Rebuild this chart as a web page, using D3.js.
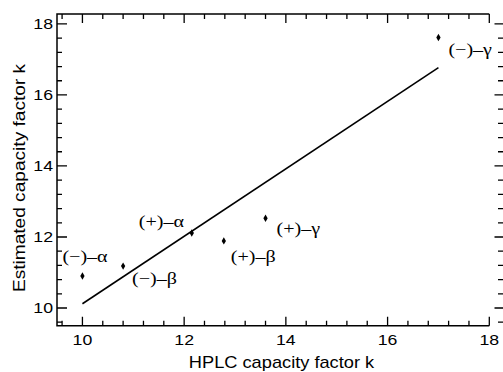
<!DOCTYPE html>
<html>
<head>
<meta charset="utf-8">
<script src="https://cdn.jsdelivr.net/npm/d3@7"></script>
<style>
  html, body { margin: 0; padding: 0; background: #fff; }
  svg { display: block; }
</style>
</head>
<body>
<div id="chart"></div>
<script>
// compounds and their capacity factors
const compounds = ['(\u2212)\u2013\u03b1', '(\u2212)\u2013\u03b2', '(+)\u2013\u03b1', '(+)\u2013\u03b2', '(+)\u2013\u03b3', '(\u2212)\u2013\u03b3'];
const hplcK = [10.0, 10.8, 12.15, 12.78, 13.6, 17.0];
const estimatedK = [10.9, 11.18, 12.11, 11.89, 12.53, 17.62];

// fitted line end points
const fitX = [10.0, 17.0];
const fitY = [10.12, 16.77];

const xMajor = [10, 12, 14, 16, 18];
const yMajor = [10, 12, 14, 16, 18];

// label offset from its point, px
const labelOffsets = [[-20, -14], [9, 18], [-53, -6], [7, 21], [11, 16], [10, 18]];

const plotLeft = 57, plotRight = 489.3, plotTop = 14, plotBottom = 325.75, rightEdge = 503;

const x = d3.scaleLinear().domain([9.5, 18]).range([plotLeft, plotRight]);
const y = d3.scaleLinear().domain([9.5, 18.28]).range([plotBottom, plotTop]);

const svg = d3.select('#chart').append('svg')
  .attr('width', 503).attr('height', 372);

const sans = 'Liberation Sans, Arial, Helvetica, sans-serif';
const serif = 'Liberation Serif, Times New Roman, serif';

function minorTicks(lo, hi) {
  const out = [];
  for (let i = Math.round(lo * 10); i <= Math.round(hi * 10); i += 4) out.push(i / 10);
  return out.filter(v => !xMajor.includes(v));
}
const xMinor = minorTicks(9.6, 18);
const yMinor = minorTicks(9.6, 18);

// frame
svg.append('path')
  .attr('d', `M${plotRight},${plotTop}L${plotLeft},${plotTop}L${plotLeft},${plotBottom}L${plotRight},${plotBottom}`)
  .attr('fill', 'none').attr('stroke', '#000').attr('stroke-width', 1.5);

// inward ticks on all four sides, one path
const tp = d3.path();
const seg = (x1, y1, x2, y2) => { tp.moveTo(x1, y1); tp.lineTo(x2, y2); };
xMajor.forEach(v => { seg(x(v), plotBottom, x(v), plotBottom - 9); seg(x(v), plotTop, x(v), plotTop + 9); });
xMinor.forEach(v => { seg(x(v), plotBottom, x(v), plotBottom - 5); seg(x(v), plotTop, x(v), plotTop + 5); });
yMajor.forEach(v => { seg(plotLeft, y(v), plotLeft + 10, y(v)); seg(rightEdge, y(v), rightEdge - 8.5, y(v)); });
yMinor.forEach(v => { seg(plotLeft, y(v), plotLeft + 5, y(v)); seg(rightEdge, y(v), rightEdge - 5, y(v)); });
svg.append('path')
  .attr('d', tp.toString())
  .attr('fill', 'none').attr('stroke', '#000').attr('stroke-width', 1.3);

// tick labels
svg.append('g').selectAll('text').data(xMajor).join('text')
  .attr('transform', d => `translate(${x(d)},345) scale(1.18,1)`)
  .attr('text-anchor', 'middle')
  .attr('font-family', sans).attr('font-size', 15)
  .text(d => d);
svg.append('g').selectAll('text').data(yMajor).join('text')
  .attr('transform', d => `translate(53,${y(d) + 5.5}) scale(1.18,1)`)
  .attr('text-anchor', 'end')
  .attr('font-family', sans).attr('font-size', 15)
  .text(d => d);

// axis titles
svg.append('text')
  .attr('transform', 'translate(281.5,368) scale(1.14,1)')
  .attr('text-anchor', 'middle')
  .attr('font-family', sans).attr('font-size', 16)
  .text('HPLC capacity factor k');
svg.append('text')
  .attr('transform', 'translate(25,178) rotate(-90) scale(1.18,1)')
  .attr('text-anchor', 'middle')
  .attr('font-family', sans).attr('font-size', 16.2)
  .text('Estimated capacity factor k');

// fitted line
const fit = fitX.map((v, i) => [v, fitY[i]]);
svg.append('path')
  .datum(fit)
  .attr('d', d3.line().x(d => x(d[0])).y(d => y(d[1])))
  .attr('fill', 'none').attr('stroke', '#000').attr('stroke-width', 1.6);

// points
const pts = compounds.map((name, i) => ({ name, hk: hplcK[i], ek: estimatedK[i], off: labelOffsets[i] }));
svg.append('g').selectAll('path').data(pts).join('path')
  .attr('transform', d => `translate(${x(d.hk)},${y(d.ek)})`)
  .attr('d', d3.symbol(d3.symbolDiamond, 16))
  .attr('fill', '#000');

svg.append('g').selectAll('text').data(pts).join('text')
  .attr('transform', d => `translate(${x(d.hk) + d.off[0]},${y(d.ek) + d.off[1]}) scale(1.18,1)`)
  .attr('font-family', serif).attr('font-size', 17)
  .text(d => d.name);
</script>
</body>
</html>
